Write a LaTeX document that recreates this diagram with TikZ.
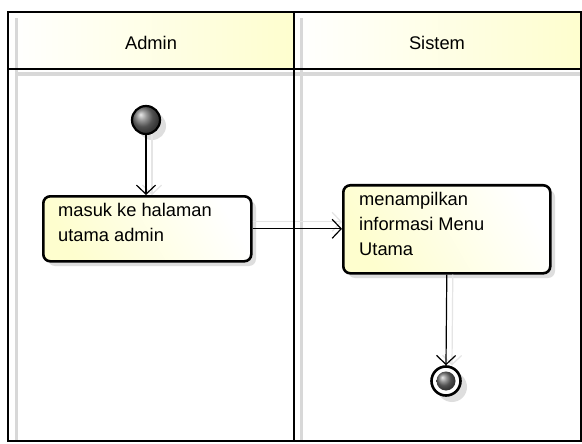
\documentclass[tikz,border=0pt]{standalone}
\usepackage{fontspec}
\setmainfont{Liberation Sans}
\usetikzlibrary{arrows.meta,shadings}
\definecolor{noteyellow}{HTML}{FEFECE}
\definecolor{lanegray}{HTML}{D8D8D8}
\tikzset{
  frame/.style={draw=black, line width=2.6pt},
  lanehead/.style={left color=white, right color=noteyellow},
  shade/.style={fill=black!13, draw=none},
  action/.style={draw=black, line width=2.6pt, rounded corners=7pt,
    left color=white, right color=noteyellow, shading angle=-60,
    rectangle, anchor=north west, inner sep=0pt},
  flow/.style={draw=black, line width=1.2pt,
    -{Straight Barb[length=9pt, width=19pt, line width=1.2pt]}},
  flowshadow/.style={draw=black!10, line width=1.2pt,
    -{Straight Barb[length=9pt, width=19pt, line width=1.2pt]}},
  txt/.style={font=\fontsize{18.3}{25}\selectfont},
}
\begin{document}
\begin{tikzpicture}[x=1pt, y=-1pt]
  \useasboundingbox (0,0) rectangle (582,444);
  \fill[white] (0,0) rectangle (582,444);

  % swimlane headers
  \shade[lanehead] (8,12) rectangle (294,69);
  \shade[lanehead] (294,12) rectangle (581,69);
  % soft lane shadows
  \fill[lanegray] (15,18) rectangle (18,441);
  \fill[lanegray] (300,18) rectangle (303,441);
  \fill[lanegray] (15,72) rectangle (581,76);
  \node[txt] (hadmin) at (151,43) {Admin};
  \node[txt] (hsistem) at (437,43) {Sistem};

  % start node
  \fill[shade] (152,126) circle (14);
  \shade[ball color=black!55, draw=black, line width=2.2pt] (146,120) circle (14);
  \coordinate (start) at (146,134);

  % actions (drop shadows first)
  \fill[shade, rounded corners=7pt] (48,201) rectangle (256,266);
  \fill[shade, rounded corners=7pt] (348,190) rectangle (555,278);
  \node[action, minimum width=208pt, minimum height=65pt] (a1) at (42,195) {};
  \node[txt, align=left, anchor=north west, inner sep=0pt] (a1t) at (58,203) {masuk ke halaman\\utama admin};
  \node[action, minimum width=207pt, minimum height=88pt] (a2) at (342,184) {};
  \node[txt, align=left, anchor=north west, inner sep=0pt] (a2t) at (359,192) {menampilkan\\informasi Menu\\Utama};

  % end node
  \fill[shade] (452,387) circle (15);
  \draw[black, line width=2.6pt, fill=white] (446,381) circle (14.5);
  \shade[ball color=black!55] (446,381) circle (9.5);
  \node[circle, minimum size=31pt, inner sep=0pt] (end) at (446,381) {};

  % connector shadows
  \draw[flowshadow] ([xshift=6pt]start) -- ([xshift=6pt]a1.north -| start);
  \draw[flowshadow] ([yshift=7pt]a1.east) -- ([yshift=7pt]a2.west |- a1.east);
  \draw[flowshadow] ([xshift=6pt]a2.south) -- ([xshift=6pt]end.north);

  % control flows
  \draw[flow] (start) -- (a1.north -| start);
  \draw[flow] (a1.east) -- (a2.west |- a1.east);
  \draw[flow] (a2.south) -- (end.north);

  % swimlane frame
  \draw[frame] (8,12) rectangle (581,441);
  \draw[frame] (294,12) -- (294,441);
  \draw[frame] (8,69) -- (581,69);
\end{tikzpicture}
\end{document}
